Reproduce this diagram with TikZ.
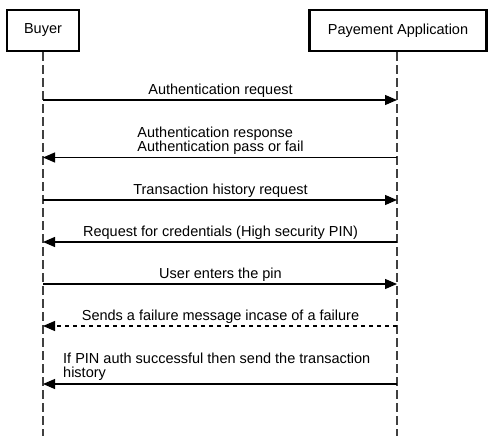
\documentclass[tikz,border=0pt]{standalone}
\usepackage{fontspec}
\setmainfont{Liberation Sans}
\usetikzlibrary{arrows.meta}
\begin{document}
\begin{tikzpicture}[x=1bp,y=-1bp,
  lbl/.style={inner sep=0pt,font=\fontsize{14.5bp}{14bp}\selectfont,align=left},
  actor/.style={lbl,align=center,draw=black,line width=2.2bp,fill=white,minimum width=72bp,minimum height=41bp},
  lifeline/.style={draw=black!75,line width=1.2bp,dash pattern=on 9bp off 4bp},
  msg/.style={draw=black,line width=1.1bp,-{Triangle[length=12bp,width=10bp]}},
  dmsg/.style={msg,dash pattern=on 4bp off 4bp}
]
\useasboundingbox (0,0) rectangle (492,436);
% actors
\node[actor] (buyer) at (43,30.5) {Buyer};
\node[actor,minimum width=177bp] (app) at (398,30.5) {Payement Application};
% lifeline ends
\coordinate (bend) at (43,436);
\coordinate (aend) at (397,436);
\draw[lifeline] (buyer.south) -- (bend);
\draw[lifeline] (app.south -| aend) -- (aend);
% message end points
\coordinate (b1) at (43,100); \coordinate (a1) at (397,100);
\coordinate (b2) at (43,157.5); \coordinate (a2) at (397,157.5);
\coordinate (b3) at (43,200); \coordinate (a3) at (397,200);
\coordinate (b4) at (43,242); \coordinate (a4) at (397,242);
\coordinate (b5) at (43,284); \coordinate (a5) at (397,284);
\coordinate (b6) at (43,326); \coordinate (a6) at (397,326);
\coordinate (b7) at (43,384); \coordinate (a7) at (397,384);
% messages
\draw[msg] (b1) -- (a1);
\node[lbl,anchor=base] (l1) at (220.5,94.5) {Authentication request};
\draw[msg] (a2) -- (b2);
\node[lbl,anchor=base] (l2) at (220.5,152) {Authentication response\\Authentication pass or fail};
\draw[msg] (b3) -- (a3);
\node[lbl,anchor=base] (l3) at (220.5,194.5) {Transaction history request};
\draw[msg] (a4) -- (b4);
\node[lbl,anchor=base] (l4) at (220.5,236.5) {Request for credentials (High security PIN)};
\draw[msg] (b5) -- (a5);
\node[lbl,anchor=base] (l5) at (220.5,278.5) {User enters the pin};
\draw[dmsg] (a6) -- (b6);
\node[lbl,anchor=base] (l6) at (220.5,320.5) {Sends a failure message incase of a failure};
\draw[msg] (a7) -- (b7);
\node[lbl,anchor=base west] (l7) at (63,377) {If PIN auth successful then send the transaction\\history};
\end{tikzpicture}
\end{document}
